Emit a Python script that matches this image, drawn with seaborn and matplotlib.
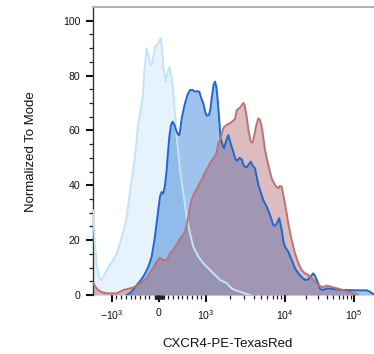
import numpy as np
import pandas as pd
import matplotlib
matplotlib.use("Agg")
import matplotlib.pyplot as plt
from matplotlib.ticker import FixedLocator, FixedFormatter
import seaborn as sns

# ---- histogram data (x in fluorescence units, y normalized to mode) ----
iso_x = [-1724, -1710, -1627, -1535, -1406, -1289, -1157, -1050, -966, -894, -824,
         -754, -682, -633, -576, -506, -436, -364, -336, -315, -283, -258, -220,
         -188, -152, -113, -82, -12, 39, 67, 99, 145, 183, 226, 258, 280, 306,
         379, 449, 519, 591, 661, 731, 837, 943, 1124, 1300, 1504, 1828, 2115,
         2330, 2690, 3120, 3610]
iso_y = [31, 29, 18, 10, 5.7, 6.2, 9.1, 11, 12.8, 15, 18.8,
         23, 28.5, 35, 41.9, 50.4, 62.6, 69.9, 73, 79.6, 86, 89.9, 87.5,
         84.5, 83.8, 87, 90.5, 91.8, 93.6, 90, 83, 77.8, 81, 83.2, 80, 79, 74,
         57.7, 45.6, 37.1, 28.5, 22.5, 17.6, 14, 11.6, 9.1, 7.3, 5.5, 4.3, 2.4,
         1.8, 1.2, 0.5, 0]

cd_x = [-682, -591, -470, -400, -330, -273, -224, -188, -152, -118, -82, -46,
        -12, 24, 56, 94, 130, 166, 194, 222, 258, 294, 332, 364, 406, 434, 459,
        485, 523, 555, 608, 661, 714, 767, 809, 858, 905, 943, 979, 1020, 1091,
        1140, 1191, 1244, 1300, 1350, 1398, 1461, 1526, 1608, 1690, 1791, 1915,
        2042, 2216, 2362, 2490, 2655, 2830, 3027, 3275, 3502, 3680, 3935, 4172,
        4383, 4619, 4826, 5313, 5867, 6458, 7111, 7470, 7852, 8472, 9084, 9572,
        10000, 11160, 12510, 13960, 15590, 17460, 19490, 21190, 23030, 25710,
        27220, 28800, 30590, 32150, 35530, 40210, 50120, 62700, 78390, 103400,
        152800, 170600, 188600, 198200]
cd_y = [0, 1, 3.6, 5, 6.7, 8.5, 10.3, 12, 14, 17.5, 21.3, 26.5,
        31, 35.8, 37.5, 37, 40, 45.6, 52, 57.7, 62, 63.2, 62, 60.2, 58.5, 58.3, 61,
        64.4, 67.5, 69.9, 73, 74.7, 74.8, 74.1, 74.3, 74.1, 71.5, 69.9, 67, 65.4, 65.6,
        68, 72.5, 76.5, 77.8, 76, 72, 65, 57.5, 55, 53.5, 56, 58.3,
        55.5, 52.2, 49.5, 49, 50, 49.5, 47, 46.5, 47.8, 48.6, 47, 46.2,
        43.1, 40, 38.3, 34.6, 32.2, 29.2, 25.5, 25.2, 26.1, 28, 23.7, 19.5,
        17.6, 15.8, 12.8, 9.7, 7.9, 6.5, 5.5, 5.5, 6.5, 7.9,
        7.0, 5.5, 4, 2.2, 1.8, 2.4, 2.2, 1.9, 1.8, 1.7,
        1.7, 1.2, 0.4, 0]

cx_x = [-1724, -1710, -1603, -1478, -1327, -1157, -894, -754, -612, -506, -400,
        -258, -152, -46, 24, 94, 166, 236, 306, 364, 449, 555, 597, 625, 661,
        697, 746, 803, 852, 909, 957, 1020, 1124, 1208, 1300, 1378, 1431, 1504,
        1580, 1656, 1740, 1915, 2013, 2216, 2330, 2447, 2564, 2749, 2966, 3071,
        3275, 3451, 3680, 3878, 4052, 4295, 4592, 4797, 5070, 5313, 5582, 6146,
        6785, 7470, 8228, 8644, 9084, 9517, 10000, 11160, 12510, 13960, 15590,
        17460, 19490, 21760, 25710, 30380, 35900, 39290, 42420, 50120, 62700,
        82680, 103400, 115400]
cx_y = [4.5, 4.3, 3, 1.8, 1.0, 0.6, 0.6, 1.8, 2.4, 3.0, 4.3,
        6.1, 9.1, 12.1, 13.6, 12.8, 12.6, 15.2, 16.5, 18, 20.5, 23, 26, 28.5, 32,
        34.6, 37, 38.5, 40.3, 41.9, 44, 45.6, 48, 49.5, 50.4, 52.5, 55.3, 56.5,
        58.5, 60.8, 61.5, 62.4, 62.6, 63.6, 64.2, 67.4, 67.8, 68.6, 70, 69.5,
        65, 60, 55.9, 55.5, 57.7, 61.5, 64.4, 64, 61.4, 57.5, 52.9, 47.4,
        42.5, 40.1, 38.9, 39.8, 39.5, 36.5, 33.4, 26.1, 20, 15.2, 11.6,
        9.1, 7.9, 7.3, 5.5, 3.6, 2.8, 3.4, 3.3, 2.8, 2.1,
        1.2, 0.6, 0]

major_ticks = [-1000, 0, 1000, 10000, 100000]
major_labels = [r"$-10^3$", "0", r"$10^3$", r"$10^4$", r"$10^5$"]
minor_ticks = ([-100 * k for k in range(2, 10)] + [-10 * k for k in range(1, 10)]
               + [10 * k for k in range(1, 10)] + [100 * k for k in range(1, 10)]
               + [1000 * k for k in range(2, 10)] + [10000 * k for k in range(2, 10)])
y_major = [0, 20, 40, 60, 80, 100]

# ---- biexponential-style display transform ----
LIN = 0.04715          # px per unit in the linear zone
D1, D2 = 79.0, 69.0    # px per decade


def _fwd(x):
    x = np.asarray(x, float)
    a = np.abs(x)
    la = np.log10(np.maximum(a, 1e-9))
    mid = 1000 * LIN + D1 * (la - 3)
    hi = 1000 * LIN + D1 + D2 * (la - 4)
    pos = np.where(a <= 1e3, LIN * a, np.where(a <= 1e4, mid, hi))
    neg = np.where(a <= 1e3, LIN * a, mid)
    return np.where(x >= 0, pos, -neg)


def _inv(u):
    u = np.asarray(u, float)
    a = np.clip(np.abs(u), 0, 2000)
    m = 1000 * LIN
    pos = np.where(a <= m, a / LIN,
                   np.where(a <= m + D1, 1e3 * 10 ** ((a - m) / D1),
                            1e4 * 10 ** ((a - m - D1) / D2)))
    neg = np.where(a <= m, a / LIN, 1e3 * 10 ** ((a - m) / D1))
    return np.where(u >= 0, pos, -neg)


sns.set_theme(style="ticks")
plt.rcParams["font.family"] = ["Liberation Sans", "DejaVu Sans"]
plt.rcParams["mathtext.fontset"] = "custom"
plt.rcParams["mathtext.rm"] = "Liberation Sans"
plt.rcParams["mathtext.it"] = "Liberation Sans"

fig = plt.figure(figsize=(3.74, 3.54), dpi=100)
ax = fig.add_axes([93 / 374, 59 / 354, 281 / 374, 288.3 / 354])
ax.set_xscale("function", functions=(_fwd, _inv))

frames = {
    "iso": pd.DataFrame({"x": iso_x, "y": iso_y}),
    "cd": pd.DataFrame({"x": cd_x, "y": cd_y}),
    "cx": pd.DataFrame({"x": cx_x, "y": cx_y}),
}
fills = {"iso": ("#aad7f5", 0.28), "cd": ("#2a7ad6", 0.45), "cx": ("#a5505a", 0.38)}
lines = {"iso": "#c3e3fa", "cd": "#1f68cc", "cx": "#bb7373"}

for key in ["iso", "cd", "cx"]:
    df = frames[key]
    c, a = fills[key]
    ax.fill_between(df["x"], 0, df["y"], color=c, alpha=a, linewidth=0, zorder=1)
for key in ["iso", "cd", "cx"]:
    sns.lineplot(data=frames[key], x="x", y="y", ax=ax, color=lines[key],
                 linewidth=1.4, sort=False, estimator=None, zorder=3)

ax.set_xlim(-1724, 194900)
ax.set_ylim(0, 105.1)

ax.xaxis.set_major_locator(FixedLocator(major_ticks))
ax.xaxis.set_major_formatter(FixedFormatter(major_labels))
ax.xaxis.set_minor_locator(FixedLocator(minor_ticks))
ax.yaxis.set_major_locator(FixedLocator(y_major))
ax.yaxis.set_minor_locator(FixedLocator([v for v in range(5, 105, 5) if v % 20]))

ax.tick_params(axis="both", which="major", length=5, width=1.5, color="#111111",
               labelsize=7.6, labelcolor="#111111")
ax.tick_params(axis="both", which="minor", length=2.6, width=0.9, color="#222222")
ax.tick_params(axis="x", which="major", pad=4.2)
ax.tick_params(axis="y", which="major", pad=4)

ax.spines["bottom"].set_visible(False)
ax.spines["right"].set_visible(False)
ax.spines["left"].set_color("#333333")
ax.spines["left"].set_linewidth(1.0)
ax.spines["top"].set_color("#aaaaaa")
ax.spines["top"].set_linewidth(1.3)
ax.set_facecolor("white")
ax.set_xlabel("")
ax.set_ylabel("")

fig.text(228 / 374, 1 - 344 / 354, "CXCR4-PE-TexasRed", ha="center", va="center",
         fontsize=9.5, color="#111111")
fig.text(31 / 374, 1 - 152 / 354, "Normalized To Mode", ha="center", va="center",
         rotation=90, fontsize=9.5, color="#111111")

fig.savefig("out.png", dpi=100, facecolor="white")
